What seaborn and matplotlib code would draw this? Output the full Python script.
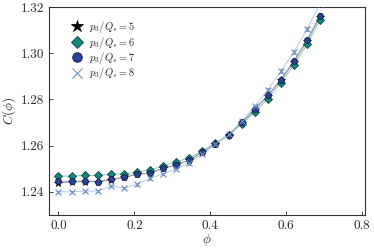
import numpy as np
import pandas as pd
import matplotlib
matplotlib.use("Agg")
import matplotlib.pyplot as plt
import seaborn as sns

phi = [0.0, 0.0345, 0.069, 0.1034, 0.1379, 0.1724, 0.2069, 0.2414, 0.2759, 0.3103,
       0.3448, 0.3793, 0.4138, 0.4483, 0.4828, 0.5172, 0.5517, 0.5862, 0.6207,
       0.6552, 0.6897]

c5 = [1.2440, 1.2442, 1.2444, 1.2443, 1.2452, 1.2462, 1.2475, 1.2480, 1.2502, 1.2515,
      1.2537, 1.2571, 1.2607, 1.2646, 1.2698, 1.2755, 1.2815, 1.2883, 1.2963, 1.3053,
      1.3158]
c6 = [1.2468, 1.2468, 1.2471, 1.2471, 1.2476, 1.2477, 1.2486, 1.2494, 1.2513, 1.2529,
      1.2548, 1.2577, 1.2610, 1.2645, 1.2693, 1.2744, 1.2803, 1.2872, 1.2950, 1.3038,
      1.3145]
c7 = [1.2445, 1.2445, 1.2447, 1.2444, 1.2454, 1.2463, 1.2477, 1.2481, 1.2503, 1.2516,
      1.2538, 1.2572, 1.2608, 1.2647, 1.2700, 1.2758, 1.2818, 1.2886, 1.2967, 1.3058,
      1.3163]
c8 = [1.2400, 1.2400, 1.2403, 1.2403, 1.2425, 1.2417, 1.2432, 1.2458, 1.2478, 1.2500,
      1.2524, 1.2565, 1.2605, 1.2650, 1.2705, 1.2770, 1.2842, 1.2922, 1.3006, 1.3103,
      1.3215]
err = [0.0005, 0.0005, 0.0005, 0.0005, 0.0005, 0.0005, 0.0005, 0.0005, 0.0005, 0.0005,
       0.0006, 0.0006, 0.0006, 0.0006, 0.0007, 0.0007, 0.0007, 0.0008, 0.0008, 0.0009,
       0.0010]

labels = [r"$p_3/Q_s = 5$", r"$p_3/Q_s = 6$", r"$p_3/Q_s = 7$", r"$p_3/Q_s = 8$"]

sns.set_style("ticks")
plt.rcParams["font.family"] = ["cmr10"]
plt.rcParams["mathtext.fontset"] = "cm"
plt.rcParams["axes.formatter.use_mathtext"] = True

fig = plt.figure(figsize=(3.74, 2.49), dpi=100)
ax = fig.add_axes([0.131, 0.137, 0.845, 0.835])

series = [
    (c5, "*", "black", "black", "#999999", 5.5),
    (c6, "D", "#138a80", "#0b3b38", "#86cbc4", 3.6),
    (c7, "o", "#26439a", "#111a3a", "#9a9ab8", 4.3),
    (c8, "x", "#6f90c2", "#6f90c2", "#b3c9e3", 4.3),
]

for (vals, mk, fc, ec, lc, ms), lab in zip(series, labels):
    df = pd.DataFrame({"phi": phi, "C": vals})
    sns.lineplot(data=df, x="phi", y="C", ax=ax, color=lc, lw=0.7, sort=False,
                 legend=False, zorder=2)
    ax.errorbar(phi, vals, yerr=err, fmt="none", ecolor=fc if mk == "x" else ec,
                elinewidth=0.5, capsize=1.6, capthick=0.5, zorder=3)
    ax.plot(phi, vals, ls="none", marker=mk, ms=ms, mfc=fc, mec=ec,
            mew=0.6 if mk != "x" else 0.8, label=lab, zorder=4)

ax.set_xlim(-0.025, 0.808)
ax.set_ylim(1.23, 1.32)
ax.set_xticks([0.0, 0.2, 0.4, 0.6, 0.8])
ax.set_yticks([1.24, 1.26, 1.28, 1.30, 1.32])
ax.xaxis.set_major_formatter(matplotlib.ticker.FormatStrFormatter("%.1f"))
ax.yaxis.set_major_formatter(matplotlib.ticker.FormatStrFormatter("%.2f"))
ax.tick_params(direction="in", labelsize=9.5, length=3, width=0.6)
for s in ax.spines.values():
    s.set_linewidth(0.8)
    s.set_color("#333333")
ax.set_xlabel(r"$\phi$", fontsize=9.5, labelpad=0)
ax.set_ylabel(r"$C(\phi)$", fontsize=9.5, labelpad=2)

ax.legend(loc="upper left", frameon=False, fontsize=7.5, handlelength=1.0,
          handletextpad=0.6, labelspacing=-0.05, borderaxespad=0.0,
          markerscale=1.6, bbox_to_anchor=(0.06, 0.962))

fig.savefig("out.png", dpi=100)
